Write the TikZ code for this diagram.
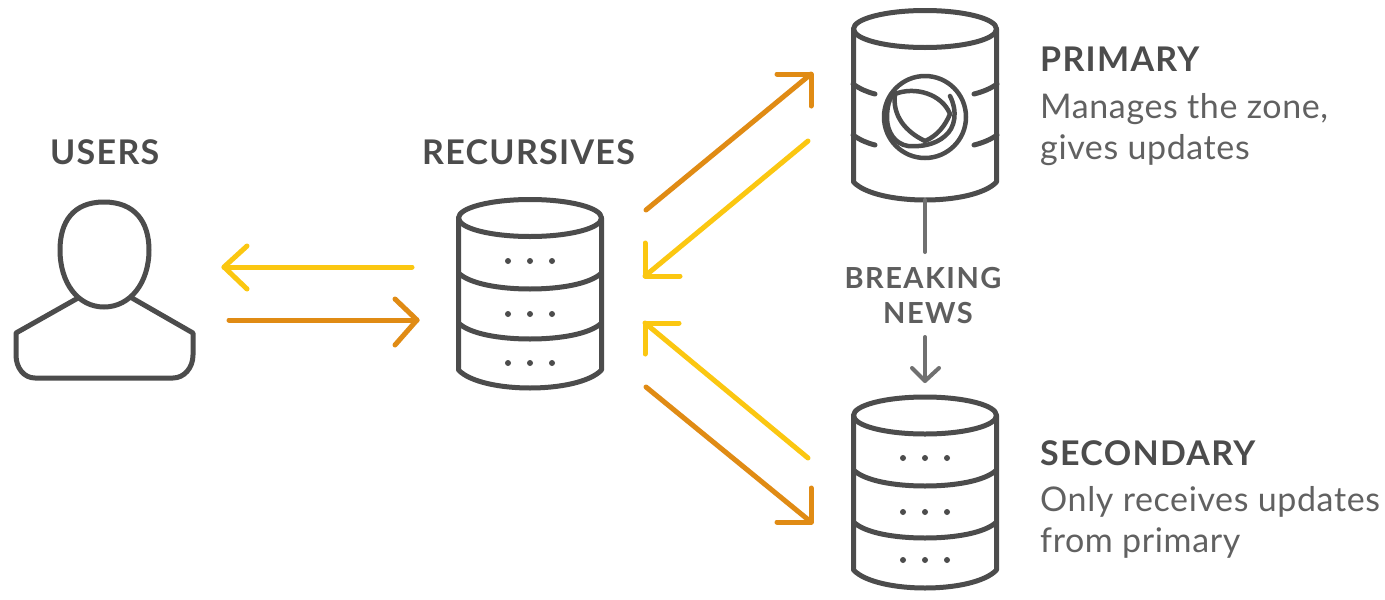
\documentclass[tikz,border=0pt]{standalone}
\usepackage{fontspec}
\setmainfont{Lato}
\definecolor{ink}{HTML}{4C4C4C}
\definecolor{para}{HTML}{616161}
\definecolor{gold}{HTML}{FBC711}
\definecolor{amber}{HTML}{E08B14}
\definecolor{rulegray}{HTML}{707070}
\tikzset{
  x=1pt,y=-1pt,
  icon/.style={draw=ink,line width=5pt,line join=round,line cap=round},
  logo/.style={draw=ink,line width=4.5pt,line join=round,line cap=round},
  slot/.style={inner sep=0pt,outer sep=0pt,draw=none},
  head/.style={font=\fontsize{34}{34}\selectfont\bfseries\addfontfeatures{LetterSpace=3.8},text=ink,anchor=base west,inner sep=0pt},
  desc/.style={font=\fontsize{34}{34}\selectfont\addfontfeatures{LetterSpace=1.8},text=para,anchor=base west,inner sep=0pt},
  flow/.style={line width=5pt,line cap=round,line join=round},
  goldflow/.style={flow,draw=gold},
  amberflow/.style={flow,draw=amber},
  newsline/.style={line width=4pt,draw=rulegray,line cap=round,line join=round},
}
% #1 cx, #2 top-ellipse cy, #3 bottom side y
\newcommand{\cylshell}[3]{%
  \draw[icon] (#1,#2) ellipse [x radius=71.5,y radius=18.5];
  \draw[icon] (#1-71.5,#2) -- (#1-71.5,#3) .. controls (#1-60,#3+12) and (#1-30,#3+18) .. (#1,#3+18) .. controls (#1+30,#3+18) and (#1+60,#3+12) .. (#1+71.5,#3) -- (#1+71.5,#2);
}
\newcommand{\cylband}[2]{%
  \draw[icon] (#1-71.5,#2) .. controls (#1-60,#2+11) and (#1-30,#2+16) .. (#1,#2+16) .. controls (#1+30,#2+16) and (#1+60,#2+11) .. (#1+71.5,#2);
}
\newcommand{\cyldots}[2]{%
  \fill[ink] (#1-22,#2) circle (3pt) (#1,#2) circle (3pt) (#1+22,#2) circle (3pt);
}
\begin{document}
\begin{tikzpicture}
\useasboundingbox (0,0) rectangle (1385,600);
\fill[white] (0,0) rectangle (1385,600);

% USER
\node[slot,minimum width=178pt,minimum height=178pt] (users) at (104,290) {};
\draw[icon] (104,202) .. controls (135,202) and (149,222) .. (149,250) .. controls (149,283) and (130,307) .. (104,307) .. controls (78,307) and (60,283) .. (60,250) .. controls (60,222) and (73,202) .. (104,202) -- cycle;
\draw[icon] (78,298) -- (16,333) -- (16,355) .. controls (16,368) and (24,378) .. (35,378) -- (173,378) .. controls (184,378) and (193,368) .. (193,355) -- (193,333) -- (132,298);

% RECURSIVES
\node[slot,minimum width=143pt,minimum height=192pt] (rec) at (530,294) {};
\cylshell{530}{218}{370}
\cylband{530}{273}
\cylband{530}{323}
\cyldots{530}{261}
\cyldots{530}{314}
\cyldots{530}{363}

% PRIMARY
\node[slot,minimum width=143pt,minimum height=190pt] (prim) at (925,105) {};
\cylshell{925}{29}{182}
\draw[icon] (853,84) .. controls (860,89) and (867,92) .. (875,94);
\draw[icon] (997,84) .. controls (990,89) and (982,92) .. (974,94);
\draw[icon] (853,135) .. controls (860,140) and (867,143) .. (875,145);
\draw[icon] (997,135) .. controls (990,140) and (982,143) .. (974,145);
\draw[logo] (925,117) circle (41pt);
\draw[logo] (950,96) .. controls (958,112) and (955,128) .. (945,136) .. controls (935,145) and (920,147) .. (908,146) .. controls (895,144) and (887,132) .. (887,118) .. controls (887,107) and (889,100) .. (893,94);
\draw[logo] (895,94) .. controls (915,86) and (942,94) .. (950,114) .. controls (945,126) and (937,136) .. (925,141) .. controls (906,132) and (892,116) .. (895,94) -- cycle;

% SECONDARY
\node[slot,minimum width=143pt,minimum height=193pt] (sec) at (925,491.5) {};
\cylshell{925}{415.5}{570}
\cylband{925}{470}
\cylband{925}{522}
\cyldots{925}{458}
\cyldots{925}{512}
\cyldots{925}{560}

% Labels
\node[head] (lusers) at (50,164) {USERS};
\node[head] (lrec) at (422,164) {RECURSIVES};
\node[head] (lprim) at (1040,71) {PRIMARY};
\node[desc] (dp1) at (1040,118) {Manages the zone,};
\node[desc] (dp2) at (1040,159) {gives updates};
\node[head] (lsec) at (1040,465) {SECONDARY};
\node[desc] (ds1) at (1040,511) {Only receives updates};
\node[desc] (ds2) at (1040,552) {from primary};
\node[font=\fontsize{29}{29}\selectfont\bfseries\addfontfeatures{LetterSpace=5},text=ink!90,inner sep=0pt,anchor=base] (bn1) at (923,288) {BREAKING};
\node[font=\fontsize{29}{29}\selectfont\bfseries\addfontfeatures{LetterSpace=5},text=ink!90,inner sep=0pt,anchor=base] (bn2) at (928,323) {NEWS};

% Breaking-news link
\coordinate (nA) at (925,252);
\coordinate (nB) at (925,337);
\coordinate (nT) at (925,381);
\coordinate (nL) at (912,368);
\coordinate (nR) at (939,368);
\draw[newsline] (prim.south) -- (nA);
\draw[newsline] (nB) -- (nT);
\draw[newsline] (nL) -- (nT) -- (nR);

% Flow ends and heads
\coordinate (uA) at (224,267);
\coordinate (rA) at (412,267);
\coordinate (uB) at (229,320);
\coordinate (rB) at (417,320);
\coordinate (rC) at (646,210);
\coordinate (pC) at (811,74);
\coordinate (pD) at (808,141);
\coordinate (rD) at (645,276);
\coordinate (sE) at (808,458);
\coordinate (rE) at (645,323);
\coordinate (rF) at (646,387);
\coordinate (sF) at (811,522);
\draw[goldflow] (rA) -- (uA);
\draw[goldflow] (247,246) -- (uA) -- (247,289);
\draw[amberflow] (uB) -- (rB);
\draw[amberflow] (395,299) -- (rB) -- (395,345);
\draw[amberflow] (rC) -- (pC);
\draw[amberflow] (777,74) -- (pC) -- (811,106);
\draw[goldflow] (pD) -- (rD);
\draw[goldflow] (645,243) -- (rD) -- (680,276);
\draw[goldflow] (sE) -- (rE);
\draw[goldflow] (645,354) -- (rE) -- (679,323);
\draw[amberflow] (rF) -- (sF);
\draw[amberflow] (777,522) -- (sF) -- (811,488);
\end{tikzpicture}
\end{document}
